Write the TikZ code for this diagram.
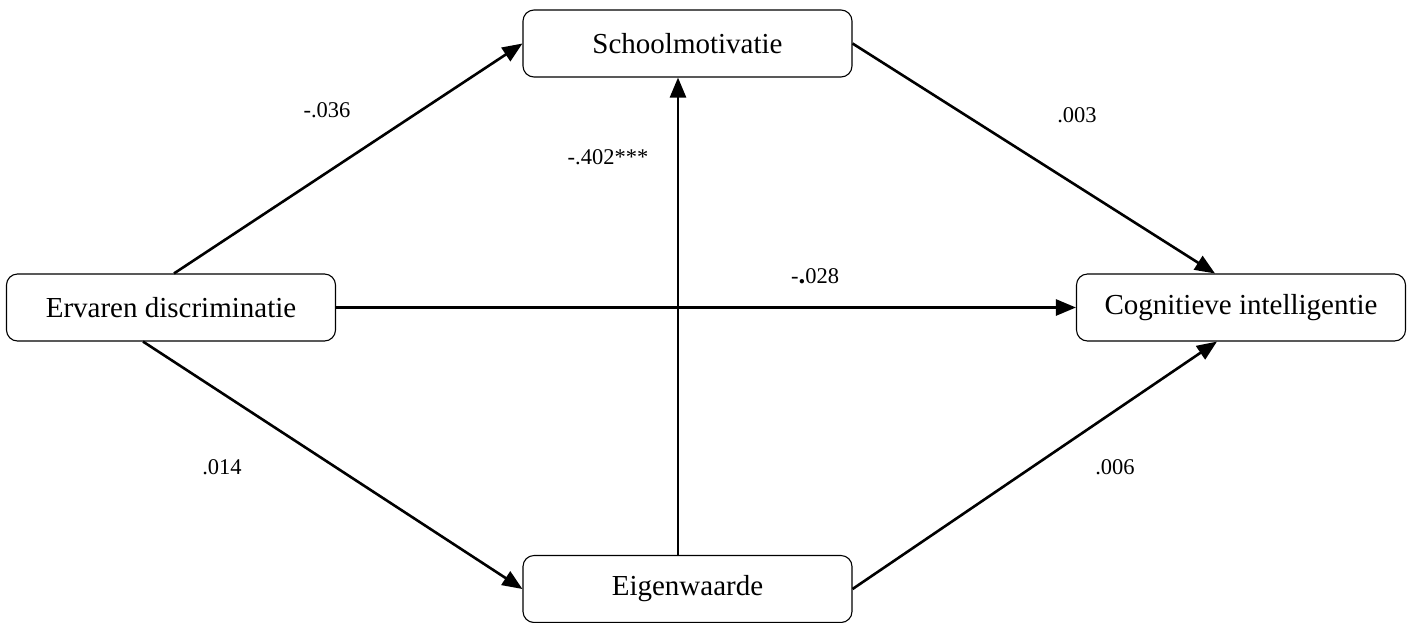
\documentclass[tikz,border=0pt]{standalone}
\usepackage{fontspec}
\setmainfont{Liberation Serif}
\usetikzlibrary{arrows.meta}
\begin{document}
\begin{tikzpicture}[x=1pt,y=-1pt,
  box/.style={draw=black,line width=1.1pt,rounded corners=11pt,minimum width=329pt,minimum height=67pt,inner sep=0pt,font=\fontsize{29}{34}\selectfont},
  conn/.style={line width=2.6pt,-{Triangle[length=20pt,width=16pt]}},
  lab/.style={font=\fontsize{22.5}{27}\selectfont,inner sep=0pt}]
\useasboundingbox (0,0) rectangle (1411,622);
\node[box] (S) at (687.5,43.5) {Schoolmotivatie};
\node[box] (E) at (171,307.5) {Ervaren discriminatie};
\node[box] (C) at (1241,307.5) {Cognitieve intelligentie};
\node[box] (W) at (687.5,589) {Eigenwaarde};
\draw[conn] ([xshift=3pt]E.north) -- (S.west);
\draw[conn] (S.east) -- ([xshift=-26pt]C.north);
\draw[conn] (E.east) -- (C.west);
\draw[conn] ([xshift=-28pt]E.south) -- (W.west);
\draw[conn] (W.east) -- ([xshift=-24pt]C.south);
\draw[conn] ([xshift=-9.5pt]W.north) -- ([xshift=-9.5pt]S.south);
\node[lab] (l1) at (327,110) {-.036};
\node[lab] (l2) at (1077,115) {.003};
\node[lab] (l3) at (608,157) {-.402***};
\node[lab] (l4) at (815,276) {-{\bfseries\fontsize{27}{27}\selectfont .}028};
\node[lab] (l5) at (222,467) {.014};
\node[lab] (l6) at (1115,467) {.006};
\end{tikzpicture}
\end{document}
